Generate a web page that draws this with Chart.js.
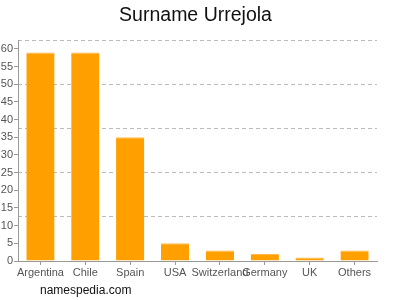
<!DOCTYPE html>
<html>
<head>
<meta charset="utf-8">
<script src="https://cdn.jsdelivr.net/npm/chart.js@4"></script>
<style>
  html, body { margin: 0; padding: 0; background: #fff; }
  #wrap { position: relative; width: 400px; height: 300px; }
  #title { position: absolute; left: 0; width: 391px; top: 3px; text-align: center; font: 19.5px "Liberation Sans", Arial, sans-serif; color: #111; }
  #site { position: absolute; left: 40px; top: 283px; font: 12px "Liberation Sans", Arial, sans-serif; color: #111; }
</style>
</head>
<body>
<div id="wrap">
  <canvas id="chart" width="400" height="300"></canvas>
  <div id="title">Surname Urrejola</div>
  <div id="site">namespedia.com</div>
</div>
<script>
// --- data ---
const countries = ['Argentina', 'Chile', 'Spain', 'USA', 'Switzerland', 'Germany', 'UK', 'Others'];
const counts = [59, 59, 35, 5, 3, 2, 1, 3];
const yTicks = [0, 5, 10, 15, 20, 25, 30, 35, 40, 45, 50, 55, 60];
const yMax = 62.5;
const gridStep = 12.5;

const font = "'Liberation Sans', Arial, sans-serif";

new Chart(document.getElementById('chart'), {
    type: 'bar',
    data: {
        labels: countries,
        datasets: [{
            data: counts,
            backgroundColor: '#ffa000',
            borderColor: '#ffb94f',
            borderWidth: { top: 1, right: 0, bottom: 0, left: 0 },
            borderSkipped: 'bottom',
            barPercentage: 0.63,
            categoryPercentage: 1
        }]
    },
    options: {
        responsive: false,
        animation: false,
        layout: { padding: { top: 40, right: 23, bottom: 0 } },
        plugins: {
            legend: { display: false },
            tooltip: { enabled: false }
        },
        scales: {
            x: {
                grid: { display: true, offset: false, drawOnChartArea: false, tickLength: 4, color: '#999' },
                border: { color: '#999' },
                ticks: { color: '#555', font: { family: font, size: 11 }, autoSkip: false, maxRotation: 0, padding: 1 },
                afterFit: s => { s.height = 39; }
            },
            y: {
                min: 0,
                max: yMax,
                grid: { display: true, drawOnChartArea: false, tickLength: 4, color: '#999' },
                border: { color: '#999' },
                ticks: { color: '#555', font: { family: font, size: 11 }, padding: 1 },
                afterBuildTicks: s => { s.ticks = yTicks.map(v => ({ value: v })); },
                afterFit: s => { s.width = 18; }
            },
            grid: {
                position: 'left',
                min: 0,
                max: yMax,
                ticks: { display: false, stepSize: gridStep },
                grid: { color: '#bbb', borderDash: [4, 3], drawTicks: false },
                border: { display: false, dash: [4, 3] },
                afterFit: s => { s.width = 0; }
            }
        }
    }
});
</script>
</body>
</html>
